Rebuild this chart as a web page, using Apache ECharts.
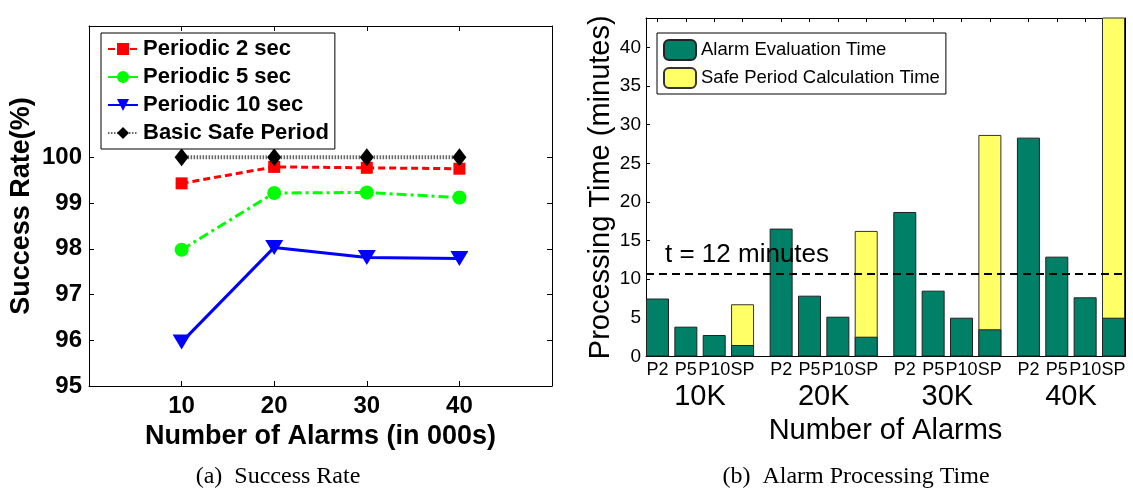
<!DOCTYPE html>
<html>
<head>
<meta charset="utf-8">
<script src="https://cdn.jsdelivr.net/npm/echarts@6/dist/echarts.min.js"></script>
<style>
  html, body { margin: 0; padding: 0; background: #fff; }
  #chart { width: 1133px; height: 489px; }
</style>
</head>
<body>
<div id="chart"></div>
<script>
// (a) success rate
const alarmsK = [10, 20, 30, 40]
const periodic2 = [99.43, 99.79, 99.77, 99.75]
const periodic5 = [97.98, 99.22, 99.23, 99.12]
const periodic10 = [95.96, 98.03, 97.81, 97.79]
const basicSafe = [100, 100, 100, 100]
const rateTicks = [95, 96, 97, 98, 99, 100]

// (b) processing time, rows = 10K..40K, cols = P2 P5 P10 SP
const groups = ['10K', '20K', '30K', '40K']
const methods = ['P2', 'P5', 'P10', 'SP']
const evalTime = [
  [7.5, 3.86, 2.78, 1.49],
  [16.55, 7.87, 5.15, 2.56],
  [18.7, 8.52, 5.02, 3.52],
  [28.32, 12.92, 7.66, 5.02]
]
const spCalcTime = [5.27, 13.69, 25.15, 40]
const timeTicks = [0, 5, 10, 15, 20, 25, 30, 35, 40]
const threshold = 10.77

const SANS = '"Liberation Sans", Arial, sans-serif'
const SERIF = '"Liberation Serif", "Times New Roman", serif'
const GROUP_STEP = 4.36 // group spacing in bar slots
const BAR_HALF = 0.405

const slotPos = []
const slotName = []
groups.forEach((g, gi) => {
  methods.forEach((m, mi) => {
    slotPos.push(gi * GROUP_STEP + mi)
    slotName.push(m)
  })
})
const groupPos = groups.map((g, gi) => gi * GROUP_STEP + (methods.length - 1) / 2)

// yellow part drawn as full height behind the green one
const evalData = []
const totalData = []
evalTime.forEach((row, gi) => {
  row.forEach((v, mi) => {
    const x = slotPos[gi * methods.length + mi]
    evalData.push([x, v])
    if (methods[mi] === 'SP') totalData.push([x, v + spCalcTime[gi]])
  })
})

const frameLine = { show: true, onZero: false, lineStyle: { color: '#000', width: 1 } }
const tickIn = (values, len) => ({ show: true, inside: true, length: len, customValues: values, lineStyle: { color: '#000', width: 1 } })
const pair = arr => alarmsK.map((x, i) => [x, arr[i]])

const lineSeries = (name, data, color, markColor, type, width, symbol, size, rotate) => ({
  name,
  type: 'line',
  xAxisIndex: 0,
  yAxisIndex: 0,
  data: pair(data),
  symbol,
  symbolSize: size,
  symbolRotate: rotate || 0,
  showSymbol: true,
  lineStyle: { color, width, type },
  itemStyle: { color: markColor, borderWidth: 0 },
  emphasis: { disabled: true }
})

const chart = echarts.init(document.getElementById('chart'))
chart.setOption({
  animation: false,
  backgroundColor: '#fff',
  grid: [
    { left: 89, top: 26, width: 463, height: 360, outerBoundsMode: 'none' },
    { left: 646, top: 18, width: 479, height: 338.5, outerBoundsMode: 'none' }
  ],
  legend: [
    {
      orient: 'vertical',
      left: 101,
      top: 33,
      padding: [5, 6, 5, 6],
      itemGap: 6,
      itemWidth: 30,
      itemHeight: 15,
      borderColor: '#000',
      borderWidth: 1,
      backgroundColor: '#fff',
      data: ['Periodic 2 sec', 'Periodic 5 sec', 'Periodic 10 sec', 'Basic Safe Period'],
      textStyle: { fontFamily: SANS, fontWeight: 'bold', fontSize: 22, color: '#000' }
    },
    {
      orient: 'vertical',
      left: 657,
      top: 33,
      padding: [6, 6, 5, 6],
      itemGap: 6,
      itemWidth: 32,
      itemHeight: 20,
      borderColor: '#000',
      borderWidth: 1,
      backgroundColor: '#fff',
      data: ['Alarm Evaluation Time', 'Safe Period Calculation Time'],
      textStyle: { fontFamily: SANS, fontSize: 18.5, color: '#000' }
    }
  ],
  xAxis: [
    {
      gridIndex: 0, type: 'value', position: 'bottom', min: 0, max: 50,
      axisLine: frameLine, axisTick: tickIn(alarmsK, 5), splitLine: { show: false },
      axisLabel: { customValues: alarmsK, margin: 8, fontFamily: SANS, fontWeight: 'bold', fontSize: 24, color: '#000' },
      name: 'Number of Alarms (in 000s)', nameLocation: 'middle', nameGap: 32,
      nameTextStyle: { fontFamily: SANS, fontWeight: 'bold', fontSize: 27, color: '#000' }
    },
    {
      gridIndex: 0, type: 'value', position: 'top', min: 0, max: 50,
      axisLine: frameLine, axisTick: tickIn(alarmsK, 5), splitLine: { show: false },
      axisLabel: { show: false }
    },
    {
      gridIndex: 1, type: 'value', position: 'bottom', min: -BAR_HALF, max: slotPos[slotPos.length - 1] + BAR_HALF,
      axisLine: frameLine, axisTick: { show: false }, splitLine: { show: false },
      axisLabel: {
        customValues: slotPos, margin: 5, fontFamily: SANS, fontSize: 18, color: '#000',
        formatter: v => slotName[slotPos.findIndex(p => Math.abs(p - v) < 1e-6)] || ''
      }
    },
    {
      gridIndex: 1, type: 'value', position: 'bottom', min: -BAR_HALF, max: slotPos[slotPos.length - 1] + BAR_HALF,
      axisLine: { show: false }, axisTick: { show: false }, splitLine: { show: false },
      axisLabel: {
        customValues: groupPos, margin: 26, fontFamily: SANS, fontSize: 29, color: '#000',
        formatter: v => groups[groupPos.findIndex(p => Math.abs(p - v) < 1e-6)] || ''
      },
      name: 'Number of Alarms', nameLocation: 'middle', nameGap: 58,
      nameTextStyle: { fontFamily: SANS, fontSize: 29, color: '#000' }
    },
    {
      gridIndex: 1, type: 'value', position: 'top', min: -BAR_HALF, max: slotPos[slotPos.length - 1] + BAR_HALF,
      axisLine: frameLine, axisTick: tickIn(slotPos, 4), splitLine: { show: false },
      axisLabel: { show: false }
    }
  ],
  yAxis: [
    {
      gridIndex: 0, type: 'value', position: 'left', min: 95, max: 102.87,
      axisLine: frameLine, axisTick: tickIn(rateTicks, 5), splitLine: { show: false },
      axisLabel: { customValues: rateTicks, margin: 7, fontFamily: SANS, fontWeight: 'bold', fontSize: 24, color: '#000' },
      name: 'Success Rate(%)', nameLocation: 'middle', nameGap: 54, nameRotate: 90,
      nameTextStyle: { fontFamily: SANS, fontWeight: 'bold', fontSize: 27, color: '#000' }
    },
    {
      gridIndex: 0, type: 'value', position: 'right', min: 95, max: 102.87,
      axisLine: frameLine, axisTick: tickIn(rateTicks, 5), splitLine: { show: false },
      axisLabel: { show: false }
    },
    {
      gridIndex: 1, type: 'value', position: 'left', min: 0, max: 43.8,
      axisLine: frameLine, axisTick: tickIn(timeTicks, 4), splitLine: { show: false },
      axisLabel: { customValues: timeTicks, margin: 5, fontFamily: SANS, fontSize: 19, color: '#000' },
      name: 'Processing Time (minutes)', nameLocation: 'middle', nameGap: 31, nameRotate: 90,
      nameTextStyle: { fontFamily: SANS, fontSize: 29, color: '#000' }
    },
    {
      gridIndex: 1, type: 'value', position: 'right', min: 0, max: 43.8,
      axisLine: frameLine, axisTick: { show: false }, splitLine: { show: false },
      axisLabel: { show: false }
    }
  ],
  series: [
    lineSeries('Periodic 2 sec', periodic2, '#ff0000', '#ff0000', [7, 4], 3, 'rect', 12),
    lineSeries('Periodic 5 sec', periodic5, '#00ff00', '#00ff00', [10, 4, 3, 4], 3, 'circle', 14),
    lineSeries('Periodic 10 sec', periodic10, '#0000ff', '#0000ff', 'solid', 3, 'triangle', [18, 15], 180),
    lineSeries('Basic Safe Period', basicSafe, '#666666', '#000000', [1.5, 1.5], 4, 'diamond', [14, 18]),
    {
      name: 'Safe Period Calculation Time',
      type: 'bar',
      xAxisIndex: 2,
      yAxisIndex: 2,
      barWidth: 23,
      barGap: '-100%',
      clip: true,
      data: totalData,
      itemStyle: { color: '#ffff66', borderColor: '#333', borderWidth: 1 },
      emphasis: { disabled: true }
    },
    {
      name: 'Alarm Evaluation Time',
      type: 'bar',
      xAxisIndex: 2,
      yAxisIndex: 2,
      barWidth: 23,
      barGap: '-100%',
      data: evalData,
      itemStyle: { color: '#008066', borderColor: '#222', borderWidth: 1 },
      emphasis: { disabled: true },
      markLine: {
        silent: true,
        symbol: 'none',
        data: [{ yAxis: threshold }],
        lineStyle: { color: '#000', width: 2, type: [8, 5] },
        label: {
          show: true, position: 'insideStartTop', distance: [19, 5],
          formatter: 't = 12 minutes', fontFamily: SANS, fontSize: 26, color: '#000'
        }
      }
    }
  ],
  graphic: [
    { type: 'text', x: 278, y: 477, style: { text: '(a)\u00a0\u00a0Success Rate', font: '24px ' + SERIF, fill: '#000', align: 'center', verticalAlign: 'middle' } },
    { type: 'text', x: 856, y: 477, style: { text: '(b)\u00a0\u00a0Alarm Processing Time', font: '24px ' + SERIF, fill: '#000', align: 'center', verticalAlign: 'middle' } }
  ]
})
</script>
</body>
</html>
